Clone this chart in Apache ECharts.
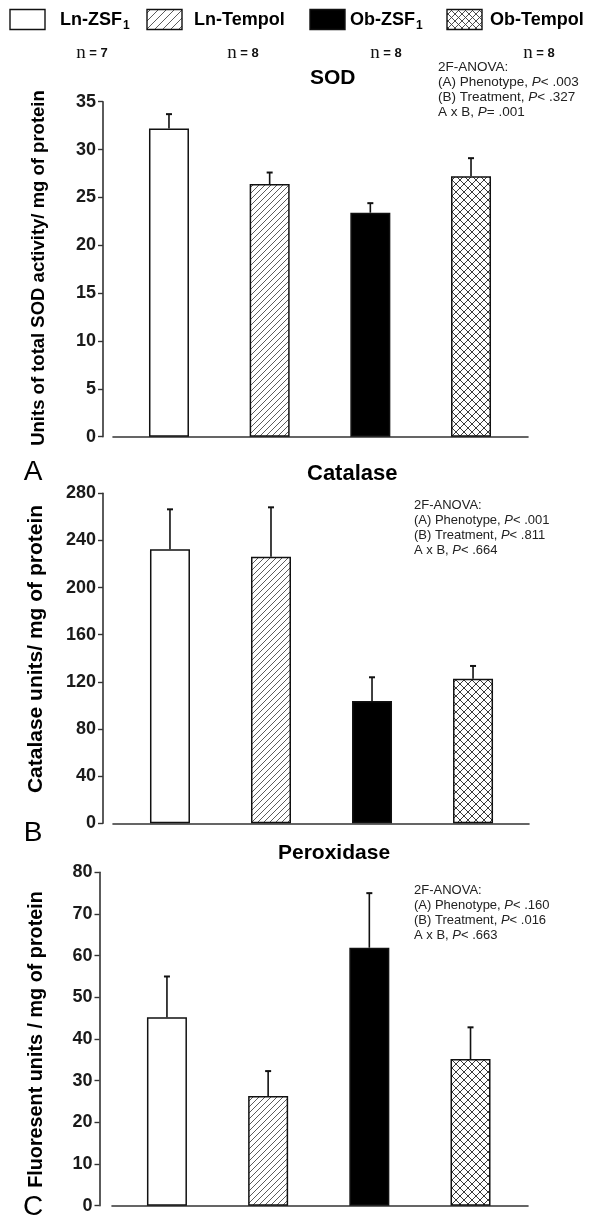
<!DOCTYPE html>
<html>
<head>
<meta charset="utf-8">
<script src="https://cdn.jsdelivr.net/npm/echarts@6/dist/echarts.min.js"></script>
<style>
html,body{margin:0;padding:0;background:#fff;}
#chart{width:591px;height:1231px;}
</style>
</head>
<body>
<div id="chart"></div>
<script>
// ---------------- data ----------------
const categories = ['Ln-ZSF1', 'Ln-Tempol', 'Ob-ZSF1', 'Ob-Tempol'];
const groupN = [7, 8, 8, 8];

const sodMean = [32.2, 26.4, 23.4, 27.2];
const sodErr = [1.5, 1.2, 1.0, 1.9];
const sodTicks = [0, 5, 10, 15, 20, 25, 30, 35];

const catalaseMean = [232.5, 226.2, 103.8, 122.7];
const catalaseErr = [33.9, 41.9, 20.1, 10.8];
const catalaseTicks = [0, 40, 80, 120, 160, 200, 240, 280];

const peroxMean = [45.2, 26.3, 61.9, 35.2];
const peroxErr = [9.8, 6.0, 13.1, 7.6];
const peroxTicks = [0, 10, 20, 30, 40, 50, 60, 70, 80];

const panelTitles = ['SOD', 'Catalase', 'Peroxidase'];
const panelLetters = ['A', 'B', 'C'];
const yTitles = ['Units of total SOD activity/ mg of protein', 'Catalase units/ mg of protein', 'Fluoresent units / mg of protein'];
const sodAnova = ['2F-ANOVA:', '(A) Phenotype, P < .003', '(B) Treatment, P < .327', 'A x B, P = .001'];
const catalaseAnova = ['2F-ANOVA:', '(A) Phenotype, P < .001', '(B) Treatment, P < .811', 'A x B, P < .664'];
const peroxAnova = ['2F-ANOVA:', '(A) Phenotype, P < .160', '(B) Treatment, P < .016', 'A x B, P < .663'];

// ---------------- styling helpers ----------------
const FONT = '"Liberation Sans", Arial, Helvetica, sans-serif';
const INK = '#1a1a1a';

function makeHatch(size, color, lw) {
  const c = document.createElement('canvas');
  c.width = size; c.height = size;
  const ctx = c.getContext('2d');
  ctx.fillStyle = '#fff'; ctx.fillRect(0, 0, size, size);
  ctx.strokeStyle = color; ctx.lineWidth = lw;
  ctx.beginPath();
  ctx.moveTo(-1, size + 1); ctx.lineTo(size + 1, -1);
  ctx.moveTo(-1, 1); ctx.lineTo(1, -1);
  ctx.moveTo(size - 1, size + 1); ctx.lineTo(size + 1, size - 1);
  ctx.stroke();
  return { image: c, repeat: 'repeat' };
}
function makeCross(size, color, lw) {
  const c = document.createElement('canvas');
  c.width = size; c.height = size;
  const ctx = c.getContext('2d');
  ctx.fillStyle = '#fff'; ctx.fillRect(0, 0, size, size);
  ctx.strokeStyle = color; ctx.lineWidth = lw;
  ctx.beginPath();
  ctx.moveTo(-1, -1); ctx.lineTo(size + 1, size + 1);
  ctx.moveTo(-1, size + 1); ctx.lineTo(size + 1, -1);
  ctx.stroke();
  return { image: c, repeat: 'repeat' };
}
const fills = ['#ffffff', makeHatch(6, '#4a4a4a', 0.9), '#000000', makeCross(8, '#3a3a3a', 1)];
const legendFills = ['#ffffff', makeHatch(8, '#4a4a4a', 0.9), '#000000', makeCross(7, '#3a3a3a', 0.9)];

// panel geometry (grid boxes)
const panels = [
  { mean: sodMean, err: sodErr, ticks: sodTicks, anova: sodAnova,
    grid: { left: 113, width: 415, top: 101.7, height: 335 }, xmin: 0.444, xmax: 4.566, yOff: 10,
    titlePos: [310, 68], titleSize: 21, anovaPos: [438, 60], anovaSize: 13.5, letterPos: [33, 472],
    yTitlePos: [39, 268], yTitleSize: 18.5 },
  { mean: catalaseMean, err: catalaseErr, ticks: catalaseTicks, anova: catalaseAnova,
    grid: { left: 113, width: 416, top: 493.3, height: 330 }, xmin: 0.436, xmax: 4.554, yOff: 10,
    titlePos: [307, 463], titleSize: 22, anovaPos: [414, 498], anovaSize: 13, letterPos: [33, 833],
    yTitlePos: [36, 649], yTitleSize: 21 },
  { mean: peroxMean, err: peroxErr, ticks: peroxTicks, anova: peroxAnova,
    grid: { left: 112, width: 416, top: 872.3, height: 333.4 }, xmin: 0.457, xmax: 4.568, yOff: 12.5,
    titlePos: [278, 843], titleSize: 21, anovaPos: [414, 883], anovaSize: 13, letterPos: [33, 1207],
    yTitlePos: [37, 1039.5], yTitleSize: 19.8 }
];

const grids = [], xAxes = [], yAxes = [], series = [], titles = [], graphics = [];

panels.forEach((p, i) => {
  grids.push({ left: p.grid.left, width: p.grid.width, top: p.grid.top, height: p.grid.height, outerBoundsMode: 'none', containLabel: false });
  xAxes.push({
    type: 'value', gridIndex: i, min: p.xmin, max: p.xmax,
    axisLine: { show: true, onZero: false, lineStyle: { color: '#333', width: 1.6 } },
    axisTick: { show: false }, axisLabel: { show: false }, splitLine: { show: false }
  });
  const step = p.ticks[1] - p.ticks[0];
  yAxes.push({
    type: 'value', gridIndex: i, min: p.ticks[0], max: p.ticks[p.ticks.length - 1], interval: step,
    offset: p.yOff,
    axisLine: { show: true, onZero: false, lineStyle: { color: '#333', width: 1.6 } },
    axisTick: { show: true, length: 5, lineStyle: { color: '#333', width: 1.4 } },
    axisLabel: { show: true, margin: 7, fontFamily: FONT, fontWeight: 'bold', fontSize: 18, color: INK },
    splitLine: { show: false }
  });
  series.push({
    type: 'bar', xAxisIndex: i, yAxisIndex: i, barWidth: 40,
    itemStyle: { borderColor: '#111', borderWidth: 1.5 },
    data: p.mean.map((v, k) => ({ value: [k + 1, v], itemStyle: { color: fills[k] } })),
    silent: true, animation: false, z: 2
  });
  series.push({
    type: 'custom', xAxisIndex: i, yAxisIndex: i, z: 3, silent: true, animation: false,
    data: p.mean.map((v, k) => [k + 1, v, p.err[k]]),
    renderItem: function (params, api) {
      const x = api.value(0), m = api.value(1), e = api.value(2);
      const a = api.coord([x, m]), b = api.coord([x, m + e]);
      return { type: 'group', children: [
        { type: 'line', shape: { x1: a[0], y1: a[1], x2: b[0], y2: b[1] }, style: { stroke: '#111', lineWidth: 1.6 } },
        { type: 'line', shape: { x1: b[0] - 3, y1: b[1], x2: b[0] + 3, y2: b[1] }, style: { stroke: '#111', lineWidth: 2 } }
      ]};
    }
  });
  titles.push({ text: panelTitles[i], left: p.titlePos[0], top: p.titlePos[1], padding: 0,
    textStyle: { fontFamily: FONT, fontWeight: 'bold', fontSize: p.titleSize, color: '#000' } });

  const anovaRich = p.anova.map(s => s.replace(/, P ([<=])/, ', {i|P}$1')).join('\n');
  graphics.push({ type: 'text', left: p.anovaPos[0], top: p.anovaPos[1], silent: true,
    style: { text: anovaRich, fontFamily: FONT, fontSize: p.anovaSize, lineHeight: 15, fill: '#222',
      rich: { i: { fontStyle: 'italic', fontFamily: FONT, fontSize: p.anovaSize, lineHeight: 15, fill: '#222' } } } });
  graphics.push({ type: 'text', x: p.letterPos[0], y: p.letterPos[1], silent: true,
    style: { text: panelLetters[i], fontFamily: FONT, fontSize: 28, fill: '#000', align: 'center', verticalAlign: 'middle' } });
  graphics.push({ type: 'text', x: p.yTitlePos[0], y: p.yTitlePos[1], rotation: Math.PI / 2, silent: true,
    style: { text: yTitles[i], fontFamily: FONT, fontWeight: 'bold', fontSize: p.yTitleSize, fill: '#000', align: 'center', verticalAlign: 'middle' } });
});

// legend (drawn from categories / groupN)
const legendBoxX = [10, 147, 310, 447];
const legendTextX = [60, 194, 350, 490];
const legendNX = [92, 243, 386, 539];
categories.forEach((name, k) => {
  graphics.push({ type: 'rect', silent: true, shape: { x: legendBoxX[k], y: 9.5, width: 35, height: 20 },
    style: { fill: legendFills[k], stroke: '#111', lineWidth: 1.4 } });
  const m = name.match(/^(.*ZSF)(1)$/);
  const txt = m ? '{b|' + m[1] + '}{s|' + m[2] + '}' : '{b|' + name + '}';
  graphics.push({ type: 'text', silent: true, x: legendTextX[k], y: 20,
    style: { text: txt, verticalAlign: 'middle', align: 'left',
      rich: { b: { fontFamily: FONT, fontWeight: 'bold', fontSize: 18, fill: '#000' },
              s: { fontFamily: FONT, fontWeight: 'bold', fontSize: 12, fill: '#000', padding: [12, 0, 0, 1] } } } });
  graphics.push({ type: 'text', silent: true, x: legendNX[k], y: 53,
    style: { text: '{n|n} {e|= ' + groupN[k] + '}', align: 'center', verticalAlign: 'middle',
      rich: { n: { fontFamily: '"Liberation Serif", "Times New Roman", serif', fontSize: 19, fill: '#111' },
              e: { fontFamily: FONT, fontWeight: 'bold', fontSize: 13, fill: '#111' } } } });
});

const chart = echarts.init(document.getElementById('chart'), null, { renderer: 'canvas' });
chart.setOption({
  backgroundColor: '#fff',
  animation: false,
  title: titles,
  grid: grids,
  xAxis: xAxes,
  yAxis: yAxes,
  series: series,
  graphic: graphics
});
</script>
</body>
</html>
